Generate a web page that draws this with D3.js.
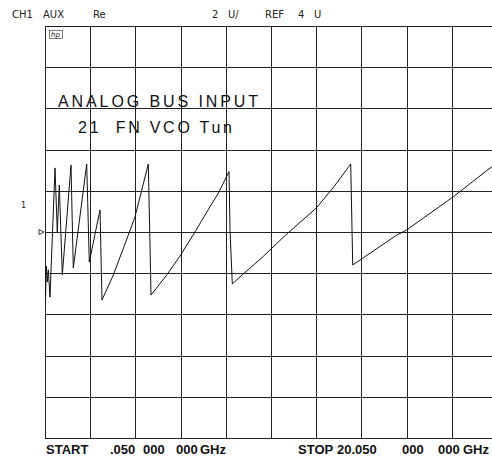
<!DOCTYPE html>
<html>
<head>
<meta charset="utf-8">
<script src="https://cdn.jsdelivr.net/npm/d3@7/dist/d3.min.js"></script>
<style>
  html, body { margin: 0; padding: 0; background: #fff; }
  svg { display: block; }
  .plot { font-family: "DejaVu Sans", sans-serif; fill: #222; }
  .thin { font-family: "Liberation Sans", Arial, sans-serif; fill: #111; }
  .bold { font-family: "Liberation Sans", Arial, sans-serif; font-weight: bold; fill: #111; }
</style>
</head>
<body>
<div id="chart"></div>
<script>
// Sweep settings and trace of the analyzer's AUX channel
const sweepStartGHz = 0.05;
const sweepStopGHz = 20.05;
const scalePerDiv = 2;      // U per division
const refValue = 4;         // U at the reference (centre) line
const divisionsX = 10;
const divisionsY = 10;

const freqGHz = [0.072, 0.108, 0.152, 0.196, 0.271, 0.493, 0.594, 0.683, 0.816, 1.201,
                 1.302, 1.895, 2.010, 2.484, 2.572, 3.072, 3.736, 4.033, 4.621, 4.741,
                 5.435, 6.024, 6.688, 7.351, 7.719, 8.192, 8.236, 8.338, 8.679, 9.652,
                 10.745, 12.042, 12.794, 13.546, 13.577, 13.666, 15.613, 16.055, 18.117,
                 19.595, 20.05];
const valueU  = [0.70, 2.35, 1.57, 2.16, 0.84, 7.11, 4.00, 6.28, 1.91, 7.25,
                 2.25, 7.30, 2.54, 5.07, 0.70, 1.91, 3.85, 4.74, 7.30, 0.94,
                 1.91, 2.83, 4.01, 5.23, 5.88, 6.93, 4.10, 1.48, 1.82, 2.76,
                 3.90, 5.15, 6.14, 7.25, 7.30, 2.40, 3.85, 4.10, 5.71,
                 6.98, 7.36];

const headerLeft = ["CH1", "AUX", "Re"];
const headerRight = ["2", "U/", "REF", "4", "U"];
const titleLines = ["ANALOG BUS INPUT", "21  FN VCO Tun"];
const startLabel = ["START", ".050", "000", "000", "GHz"];
const stopLabel = ["STOP", "20.050", "000", "000", "GHz"];

const W = 492, H = 457;
const gLeft = 45, gTop = 26, gridW = 452, gridH = 412;

const svg = d3.select("#chart").append("svg")
  .attr("width", W).attr("height", H);

const x = d3.scaleLinear().domain([sweepStartGHz, sweepStopGHz]).range([gLeft, gLeft + gridW]);
const yMin = refValue - scalePerDiv * divisionsY / 2;
const yMax = refValue + scalePerDiv * divisionsY / 2;
const y = d3.scaleLinear().domain([yMin, yMax]).range([gTop + gridH, gTop]);

const xTicks = d3.range(divisionsX + 1).map(i => sweepStartGHz + i * (sweepStopGHz - sweepStartGHz) / divisionsX);
const yTicks = d3.range(divisionsY + 1).map(i => yMin + i * scalePerDiv);

// graticule
const grid = svg.append("g").attr("shape-rendering", "crispEdges");
grid.selectAll("line.v").data(xTicks).join("line")
  .attr("class", "v")
  .attr("x1", d => Math.round(x(d)) + 0.5).attr("x2", d => Math.round(x(d)) + 0.5)
  .attr("y1", gTop).attr("y2", gTop + gridH)
  .attr("stroke", "#222").attr("stroke-width", 1);
grid.selectAll("line.h").data(yTicks).join("line")
  .attr("class", "h")
  .attr("x1", gLeft).attr("x2", gLeft + gridW)
  .attr("y1", d => Math.round(y(d)) + 0.5).attr("y2", d => Math.round(y(d)) + 0.5)
  .attr("stroke", "#222").attr("stroke-width", 1);

// trace
const line = d3.line().x((d, i) => x(freqGHz[i])).y(d => y(d));
svg.append("path")
  .datum(valueU)
  .attr("d", line)
  .attr("fill", "none")
  .attr("stroke", "#111")
  .attr("stroke-width", 1);

// header annotations
const header = svg.append("g").attr("class", "plot").attr("font-size", 10);
const headerLeftX = [12, 43, 93];
header.selectAll("text.hl").data(headerLeft).join("text")
  .attr("class", "hl").attr("x", (d, i) => headerLeftX[i]).attr("y", 18).text(d => d);
const headerRightX = [212, 228, 265, 298, 314];
header.selectAll("text.hr").data(headerRight).join("text")
  .attr("class", "hr").attr("x", (d, i) => headerRightX[i]).attr("y", 18).text(d => d);

// small logo box inside the graticule
svg.append("rect").attr("x", 49.5).attr("y", 30.5).attr("width", 13).attr("height", 8)
  .attr("fill", "none").attr("stroke", "#444").attr("stroke-width", 0.7);
svg.append("text").attr("class", "plot").attr("x", 51).attr("y", 37).attr("font-size", 7)
  .attr("font-style", "italic").text("hp");

// title lines
const titleG = svg.append("g").attr("class", "thin");
titleG.append("text").attr("x", 58).attr("y", 107).attr("font-size", 16)
  .attr("textLength", 200).attr("lengthAdjust", "spacing").text(titleLines[0]);
titleG.append("text").attr("x", 78).attr("y", 133).attr("font-size", 16)
  .style("white-space", "pre").attr("textLength", 154).attr("lengthAdjust", "spacing")
  .text(titleLines[1]);

// channel number and reference marker
svg.append("text").attr("class", "plot").attr("x", 21).attr("y", 208).attr("font-size", 8).text("1");
const ry = y(refValue);
svg.append("path")
  .attr("d", `M39,${ry - 2.5} L44,${ry} L39,${ry + 2.5} Z`)
  .attr("fill", "none").attr("stroke", "#222").attr("stroke-width", 0.9);

// start / stop annotation
const foot = svg.append("g").attr("class", "bold").attr("font-size", 13);
const startX = [46, 110, 143, 176, 200];
foot.selectAll("text.s").data(startLabel).join("text")
  .attr("class", "s").attr("x", (d, i) => startX[i]).attr("y", 454).text(d => d);
const stopX = [298, 337, 402, 438, 463];
foot.selectAll("text.e").data(stopLabel).join("text")
  .attr("class", "e").attr("x", (d, i) => stopX[i]).attr("y", 454).text(d => d);
</script>
</body>
</html>
